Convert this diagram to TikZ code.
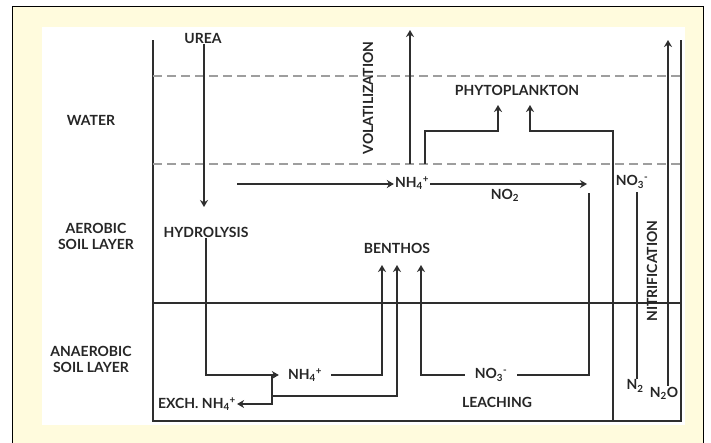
\documentclass[tikz,border=0pt]{standalone}
\usepackage{fontspec}
\setmainfont{Lato}
\usetikzlibrary{positioning,arrows.meta}
\definecolor{fundo}{HTML}{FFFBDD}
\definecolor{traco}{HTML}{2E2E2E}
\newcommand{\ionNH}{NH\textsubscript{4}\textsuperscript{+}}
\newcommand{\ionNO}{NO\textsubscript{3}\textsuperscript{-}}

\begin{document}
\begin{tikzpicture}[
      x=1pt, y=-1pt,
      font=\fontsize{14}{16}\selectfont\bfseries,
      rotulo/.style={inner sep=1pt, text=black!85, align=center},
      linha/.style={line width=2pt, draw=traco},
      seta/.style={linha, -{Stealth[length=7pt, width=8pt]}},
      tracejada/.style={line width=1.4pt, draw=black!38, dash pattern=on 9pt off 5pt}
    ]
    \useasboundingbox (0,0) rectangle (711,442);
    \draw[fill=fundo, line width=0.8pt] (12,6) rectangle (703,470);
    \fill[white] (42,27) rectangle (685,425);

    % camadas
    \node[rotulo] (agua) at (91,120) {WATER};
    \node[rotulo] (aerob) at (96,236) {AEROBIC\\SOIL LAYER};
    \node[rotulo] (anaerob) at (91,359) {ANAEROBIC\\SOIL LAYER};

    % moldura
    \draw[linha] (153,40) -- (153,421) -- (681,421) -- (681,40);
    \draw[linha] (153,303) -- (681,303);
    \draw[tracejada] (153,76) -- (681,76);
    \draw[tracejada] (153,164) -- (681,164);

    % rotulos
    \node[rotulo] (ureia) at (203,38) {UREA};
    \node[rotulo] (hidro) at (206,232) {HYDROLYSIS};
    \node[rotulo] (nhs) at (412,183) {\ionNH};
    \node[rotulo] (no2) at (505,195) {NO\textsubscript{2}};
    \node[rotulo] (fito) at (517,90) {PHYTOPLANKTON};
    \node[rotulo, rotate=90] (volat) at (368,98) {VOLATILIZATION};
    \node[rotulo] (bentos) at (397,248) {BENTHOS};
    \node[rotulo, inner xsep=9pt] (nhi) at (305,375) {\ionNH};
    \node[rotulo] (troca) at (197,404) {EXCH. \ionNH};
    \node[rotulo, inner xsep=10pt] (no3i) at (491,375) {\ionNO};
    \node[rotulo] (lixiv) at (497,402) {LEACHING};
    \node[rotulo] (no3s) at (632,182) {\ionNO};
    \node[rotulo, rotate=90] (nitrif) at (652,271) {NITRIFICATION};
    \node[rotulo] (n2) at (635,386) {N\textsubscript{2}};
    \node[rotulo] (n2o) at (664,393) {N\textsubscript{2}O};

    % pontos livres
    \coordinate (u1) at (204,207);
    \coordinate (h0) at (237,184);
    \coordinate (n1) at (587,184);
    \coordinate (v0) at (410,164);
    \coordinate (v1) at (410,30);
    \coordinate (f0) at (425,164);
    \coordinate (f1) at (498,105);
    \coordinate (f2) at (613,421);
    \coordinate (f3) at (530,105);
    \coordinate (b1) at (382,265);
    \coordinate (b2) at (397,265);
    \coordinate (b3) at (421,265);
    \coordinate (e0) at (272,375);
    \coordinate (l0) at (589,193);
    \coordinate (d0) at (637,192);
    \coordinate (t1) at (668,40);

    % fluxos
    \draw[seta] (ureia.south -| u1) -- (u1);
    \draw[seta] (h0) -- (nhs.west |- h0);
    \draw[seta] (nhs.east |- n1) -- (n1);
    \draw[seta] (v0) -- (v1);
    \draw[seta] (f0) |- (f1 |- 0,131) -- (f1);
    \draw[seta] (f2) |- (f3 |- 0,131) -- (f3);
    \draw[seta] (hidro.south) |- (nhi.west);
    \draw[seta] (e0) |- (troca.east);
    \draw[seta] (e0 |- 0,396) -| (b2);
    \draw[seta] (nhi.east) -| (b1);
    \draw[seta] (no3i.west) -| (b3);
    \draw[linha] (l0) |- (no3i.east);
    \draw[linha] (d0) -- (d0 |- n2.north);
    \draw[seta] (n2o.north -| t1) -- (t1);
  \end{tikzpicture}
\end{document}
